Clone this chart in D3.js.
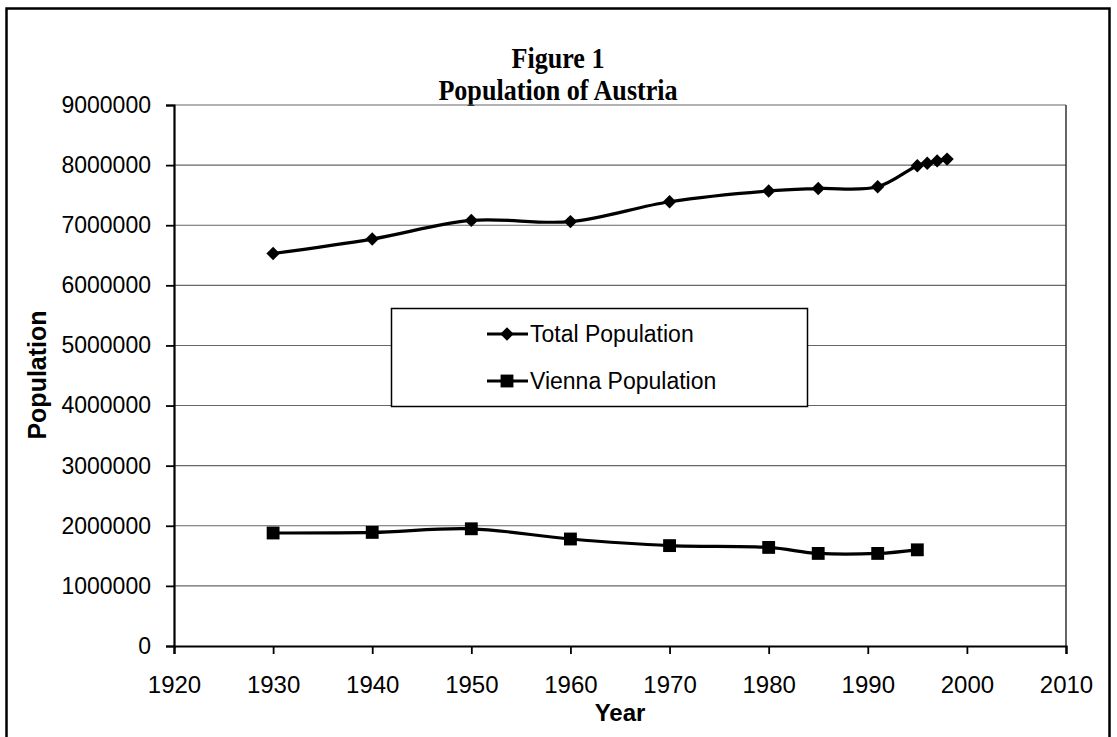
<!DOCTYPE html>
<meta charset="utf-8">
<script src="https://d3js.org/d3.v7.min.js"></script>
<style>
  body { margin: 0; background: #fff; }
  text { font-family: Arial, "Liberation Sans", sans-serif; fill: #000; }
</style>
<div id="chart"></div>
<script>

  // data
  var totalYears = [1930, 1940, 1950, 1960, 1970, 1980, 1985, 1991, 1995, 1996, 1997, 1998];
  var totalPop = [6530000, 6770000, 7080000, 7060000, 7390000, 7570000, 7610000, 7640000, 7990000, 8030000, 8070000, 8100000];
  var viennaYears = [1930, 1940, 1950, 1960, 1970, 1980, 1985, 1991, 1995];
  var viennaPop = [1880000, 1890000, 1950000, 1780000, 1670000, 1640000, 1540000, 1540000, 1600000];
  var yearTicks = [1920, 1930, 1940, 1950, 1960, 1970, 1980, 1990, 2000, 2010];
  var popTicks = [0, 1000000, 2000000, 3000000, 4000000, 5000000, 6000000, 7000000, 8000000, 9000000];
  var seriesNames = ["Total Population", "Vienna Population"];

  var W = 1117, H = 737;
  var margin = { top: 105, right: 51, bottom: 91, left: 174 },
    width = W - margin.left - margin.right,
    height = H - margin.top - margin.bottom;

  var root = d3.select("#chart").append("svg")
    .attr("width", W)
    .attr("height", H);

  // outer frame
  root.append("rect")
    .attr("x", 6.5).attr("y", 8.5)
    .attr("width", 1103).attr("height", 740)
    .attr("fill", "none")
    .attr("stroke", "#000")
    .attr("stroke-width", 2.5);

  // title (the scan shows it narrow and tall)
  var titles = ["Figure 1", "Population of Austria"];
  root.append("g")
    .selectAll("text")
    .data(titles)
    .enter()
    .append("text")
    .attr("transform", function (d, i) { return "translate(558," + (68 + i * 32) + ") scale(0.87,1)"; })
    .attr("text-anchor", "middle")
    .style("font-family", "'Liberation Serif', 'Times New Roman', serif")
    .style("font-weight", "bold")
    .style("font-size", "30px")
    .text(function (d) { return d; });

  var svg = root.append("g")
    .attr("transform", "translate(" + margin.left + "," + margin.top + ")");

  var x = d3.scaleLinear().domain([1920, 2010]).range([0, width]);
  var y = d3.scaleLinear().domain([0, 9000000]).range([height, 0]);

  // gridlines
  svg.append("g")
    .selectAll("line")
    .data(popTicks.slice(1))
    .enter()
    .append("line")
    .attr("x1", 0).attr("x2", width)
    .attr("y1", function (d) { return y(d); })
    .attr("y2", function (d) { return y(d); })
    .attr("stroke", "#666")
    .attr("stroke-width", 1.1);

  // right border of plot area
  svg.append("line")
    .attr("x1", width).attr("x2", width)
    .attr("y1", 0).attr("y2", height)
    .attr("stroke", "#333")
    .attr("stroke-width", 1.5);

  // Y axis
  var yAxis = svg.append("g")
    .call(d3.axisLeft(y).tickValues(popTicks).tickSize(8).tickPadding(15).tickFormat(d3.format("d")));
  yAxis.selectAll("text").style("font-size", "23px");

  // X axis
  var xAxis = svg.append("g")
    .attr("transform", "translate(0," + height + ")")
    .call(d3.axisBottom(x).tickValues(yearTicks).tickSize(8).tickPadding(22).tickFormat(d3.format("d")));
  xAxis.selectAll("text").style("font-size", "24px");

  svg.selectAll(".domain").attr("stroke-width", 2.2);
  svg.selectAll(".tick line").attr("stroke-width", 1.8);

  // axis titles
  svg.append("text")
    .attr("text-anchor", "middle")
    .attr("x", width / 2)
    .attr("y", height + 75)
    .style("font-weight", "bold")
    .style("font-size", "24px")
    .text("Year");

  svg.append("text")
    .attr("text-anchor", "middle")
    .attr("transform", "rotate(-90)")
    .attr("x", -(375 - margin.top))
    .attr("y", 46 - margin.left)
    .style("font-weight", "bold")
    .style("font-size", "25px")
    .text("Population");

  // lines
  var line = d3.line()
    .x(function (d) { return x(d[0]); })
    .y(function (d) { return y(d[1]); })
    .curve(d3.curveCatmullRom.alpha(0.5));

  var totalData = d3.zip(totalYears, totalPop);
  var viennaData = d3.zip(viennaYears, viennaPop);

  svg.append("path")
    .datum(totalData)
    .attr("d", line)
    .attr("fill", "none")
    .attr("stroke", "#000")
    .attr("stroke-width", 3.2);

  svg.append("path")
    .datum(viennaData)
    .attr("d", line)
    .attr("fill", "none")
    .attr("stroke", "#000")
    .attr("stroke-width", 3.2);

  var diamond = d3.symbol().type(d3.symbolSquare).size(90);
  var square = d3.symbol().type(d3.symbolSquare).size(165);

  svg.append("g")
    .selectAll("path")
    .data(totalData)
    .enter()
    .append("path")
    .attr("d", diamond)
    .attr("transform", function (d) { return "translate(" + x(d[0]) + "," + y(d[1]) + ") rotate(45)"; })
    .attr("fill", "#000");

  svg.append("g")
    .selectAll("path")
    .data(viennaData)
    .enter()
    .append("path")
    .attr("d", square)
    .attr("transform", function (d) { return "translate(" + x(d[0]) + "," + y(d[1]) + ")"; })
    .attr("fill", "#000");

  // legend
  var legend = root.append("g");
  legend.append("rect")
    .attr("x", 391.5).attr("y", 308.5)
    .attr("width", 416).attr("height", 98)
    .attr("fill", "#fff")
    .attr("stroke", "#000")
    .attr("stroke-width", 1.5);

  var rows = legend.selectAll(".row")
    .data(seriesNames)
    .enter()
    .append("g")
    .attr("transform", function (d, i) { return "translate(0," + (334 + i * 47) + ")"; });

  rows.append("line")
    .attr("x1", 487).attr("x2", 528)
    .attr("y1", 0).attr("y2", 0)
    .attr("stroke", "#000")
    .attr("stroke-width", 3.2);

  rows.append("path")
    .attr("d", function (d, i) { return i === 0 ? diamond() : square(); })
    .attr("transform", function (d, i) { return "translate(507,0)" + (i === 0 ? " rotate(45)" : ""); })
    .attr("fill", "#000");

  rows.append("text")
    .attr("x", 530)
    .attr("y", 0)
    .attr("dy", "0.36em")
    .style("font-size", "23px")
    .text(function (d) { return d; });

</script>
